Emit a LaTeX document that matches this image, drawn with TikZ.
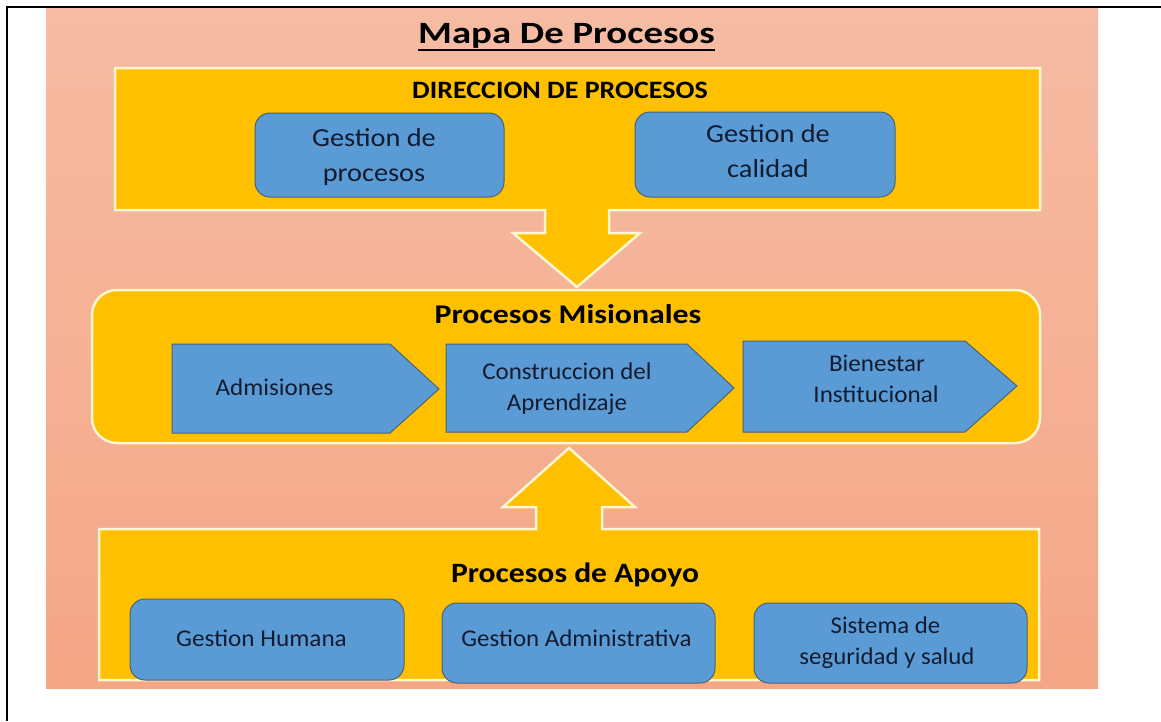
\documentclass[tikz,border=0pt]{standalone}
\usepackage{fontspec}
\setmainfont{Carlito}
\usepackage{graphicx}
\definecolor{pinkT}{RGB}{246,188,164}
\definecolor{pinkB}{RGB}{244,166,134}
\definecolor{gold}{RGB}{255,192,0}
\definecolor{cream}{RGB}{255,246,210}
\definecolor{bluef}{RGB}{91,155,213}
\definecolor{blued}{RGB}{72,100,118}
\definecolor{navy}{RGB}{18,28,48}
\newcommand{\sx}[2]{\scalebox{#1}[1]{#2}}
\begin{document}
\begin{tikzpicture}[x=1pt,y=-1pt,
  goldshape/.style={fill=gold,draw=cream,line width=2.5pt,line join=miter},
  bluebox/.style={fill=bluef,draw=blued,line width=1pt,rounded corners=15pt,inner sep=0pt},
  chev/.style={fill=bluef,draw=blued,line width=1pt,line join=miter},
  tx/.style={anchor=base,inner sep=0pt,text=navy,font=\fontsize{24}{28}\selectfont},
  txb/.style={anchor=base,inner sep=0pt,text=navy,font=\fontsize{26}{30}\selectfont},
  hd/.style={anchor=base,inner sep=0pt,text=black,font=\bfseries\fontsize{27}{32}\selectfont}]
\useasboundingbox (0,0) rectangle (1161,721);
\fill[white] (0,0) rectangle (1161,721);
\shade[top color=pinkT,bottom color=pinkB] (46,8) rectangle (1098,688);
\draw[line width=2pt] (1161,7) -- (7,7) -- (7,721);

% top block with down arrow
\draw[goldshape] (115,68) -- (1040,68) -- (1040,210) -- (609,210) -- (609,233) -- (640,233)
  -- (577,287) -- (513,233) -- (545,233) -- (545,210) -- (115,210) -- cycle;
% middle block
\draw[goldshape,rounded corners=25pt] (92,290) rectangle (1040,443);
% bottom block with up arrow
\draw[goldshape] (99,529) -- (536,529) -- (536,507) -- (503,507) -- (569,448) -- (635,507)
  -- (602,507) -- (602,529) -- (1039,529) -- (1039,680) -- (99,680) -- cycle;

% blue boxes
\node[bluebox,minimum width=249pt,minimum height=84pt] (gproc) at (379.5,155) {};
\node[bluebox,minimum width=260pt,minimum height=85pt] (gcal) at (765,154.5) {};
\node[bluebox,minimum width=274pt,minimum height=81pt] (ghum) at (267,639.5) {};
\node[bluebox,minimum width=273pt,minimum height=80pt] (gadm) at (578.5,643) {};
\node[bluebox,minimum width=273pt,minimum height=80pt] (sist) at (890.5,643) {};

% chevrons
\draw[chev] (172,344) -- (390,344) -- (439,389) -- (390,433) -- (172,433) -- cycle;
\draw[chev] (446,344) -- (687,344) -- (734,388) -- (687,432) -- (446,432) -- cycle;
\draw[chev] (743,341) -- (965,341) -- (1017,386) -- (965,432) -- (743,432) -- cycle;

% texts
\node[hd,font=\bfseries\fontsize{31}{36}\selectfont] (title) at (566.5,43) {\sx{1.25}{Mapa De Procesos}};
\draw[line width=2pt] ([yshift=-7pt]title.base west) -- ([yshift=-7pt]title.base east);
\node[hd,font=\bfseries\fontsize{25}{30}\selectfont] (dir) at (560,98) {\sx{1.12}{DIRECCION DE PROCESOS}};
\node[txb] (gp1) at (374,146) {\sx{1.09}{Gestion de}};
\node[txb] (gp2) at (374,181) {\sx{1.09}{procesos}};
\node[txb] (gc1) at (768,142) {\sx{1.09}{Gestion de}};
\node[txb] (gc2) at (768,177) {\sx{1.09}{calidad}};
\node[hd] (mis) at (568,323) {\sx{1.18}{Procesos Misionales}};
\node[tx] (adm) at (274.5,395) {\sx{1.045}{Admisiones}};
\node[tx] (con1) at (567,379) {\sx{1.04}{Construccion del}};
\node[tx] (con2) at (567,410) {\sx{1.04}{Aprendizaje}};
\node[tx] (bie1) at (877,371) {\sx{1.045}{Bienestar}};
\node[tx] (bie2) at (876,402) {\sx{1.045}{Institucional}};
\node[hd,font=\bfseries\fontsize{28}{33}\selectfont] (apo) at (575,582) {\sx{1.13}{Procesos de Apoyo}};
\node[tx] (ghumt) at (261.5,646) {\sx{1.05}{Gestion Humana}};
\node[tx] (gadmt) at (576.5,646) {\sx{1.04}{Gestion Administrativa}};
\node[tx] (sis1) at (885.5,633) {\sx{1.035}{Sistema de}};
\node[tx] (sis2) at (887,664) {\sx{1.035}{seguridad y salud}};
\end{tikzpicture}
\end{document}
